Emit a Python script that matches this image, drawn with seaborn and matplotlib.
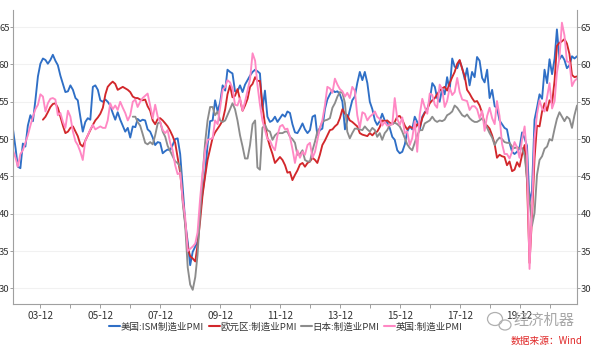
import numpy as np
import pandas as pd
import matplotlib
matplotlib.use("Agg")
import matplotlib.pyplot as plt
from matplotlib.lines import Line2D
from matplotlib.patches import Ellipse
import seaborn as sns

# ---------------- data ----------------
series_names = ["美国:ISM制造业PMI", "欧元区:制造业PMI", "日本:制造业PMI", "英国:制造业PMI"]
series_colors = ["#2F6FC6", "#D2272B", "#8C8C8C", "#FF88C4"]
series_start = ["2003-01-01", "2004-01-01", "2007-01-01", "2003-01-01"]

us_ism = [
    51.3, 48.8, 46.3, 46.1, 49.4, 49.0, 51.8, 53.2, 52.4, 55.2, 58.4, 60.1,
    60.8, 60.6, 60.1, 60.6, 61.3, 60.5, 59.9, 58.5, 57.4, 56.3, 56.4, 57.2,
    56.6, 55.5, 55.2, 53.0, 51.0, 52.3, 52.8, 52.6, 57.0, 57.2, 56.6, 55.2,
    55.0, 55.3, 55.0, 54.5, 53.5, 52.6, 53.6, 52.6, 51.8, 51.0, 51.5, 50.2,
    51.7, 51.6, 52.7, 52.4, 52.6, 52.5, 51.3, 51.0, 50.2, 49.2, 49.6, 49.5,
    48.1, 48.4, 48.6, 48.5, 49.2, 50.0, 50.1, 48.0, 43.5, 38.9, 36.2, 33.1,
    34.9, 35.6, 36.3, 40.1, 42.8, 45.3, 49.2, 52.4, 52.5, 55.2, 53.7, 54.9,
    57.2, 56.5, 59.3, 59.0, 58.8, 56.4, 56.4, 57.2, 56.3, 57.3, 57.9, 58.5,
    59.0, 59.3, 59.1, 58.8, 54.0, 56.5, 53.0, 52.3, 52.5, 53.0, 52.3, 52.8,
    53.3, 53.0, 53.7, 53.5, 52.0, 50.9, 50.8, 51.4, 52.1, 51.3, 50.8, 51.2,
    53.0, 53.2, 50.5, 51.2, 51.4, 54.0, 55.3, 56.0, 56.6, 56.3, 56.4, 56.0,
    55.0, 51.3, 52.5, 53.9, 55.2, 55.7, 57.5, 59.0, 57.9, 59.0, 57.5, 55.0,
    54.0, 52.5, 51.9, 52.4, 53.4, 52.5, 52.2, 51.5, 50.3, 49.9, 48.5, 48.1,
    48.3, 49.3, 51.0, 51.7, 51.3, 53.0, 52.3, 51.2, 53.0, 53.6, 54.0, 55.2,
    57.5, 57.0, 55.5, 55.0, 56.8, 56.0, 58.3, 56.5, 60.8, 59.7, 59.5, 60.5,
    59.5, 58.0, 59.5, 57.2, 59.0, 58.3, 61.0, 60.5, 58.2, 57.6, 59.3, 55.5,
    56.6, 54.4, 54.2, 52.5, 52.0, 51.5, 51.3, 49.5, 48.3, 48.0, 48.3, 48.8,
    50.9, 50.1, 49.1, 41.5, 43.1, 52.6, 54.2, 56.0, 55.4, 59.3, 57.5, 60.7,
    58.7, 60.8, 64.7, 60.7, 61.2, 60.6, 59.5, 59.9, 61.1, 60.8, 61.1,
]

eurozone = [
    52.6, 53.0, 53.6, 54.3, 54.7, 54.8, 54.2, 53.0, 51.8, 50.8, 51.0, 51.5,
    51.7, 51.0, 50.4, 49.3, 49.0, 49.8, 50.5, 51.2, 51.9, 52.5, 52.9, 53.4,
    54.2, 56.0, 57.0, 57.4, 57.7, 57.4, 56.6, 56.8, 57.0, 56.8, 56.6, 56.3,
    55.7, 55.5, 55.5, 55.3, 55.2, 55.3, 54.4, 53.8, 52.5, 52.0, 52.7, 52.8,
    52.5, 52.1, 51.7, 51.1, 50.4, 49.5, 47.5, 45.5, 42.0, 38.8, 35.5, 34.3,
    34.0, 33.6, 35.8, 39.0, 42.5, 45.0, 47.2, 48.7, 50.2, 50.9, 51.4, 51.9,
    52.5, 54.0, 56.0, 57.2, 55.6, 55.8, 56.7, 55.3, 53.8, 54.5, 55.4, 57.0,
    57.4, 58.3, 57.8, 57.8, 54.5, 52.0, 50.2, 49.0, 48.0, 46.8, 47.2, 47.6,
    47.2, 46.5, 45.5, 45.6, 44.5, 45.2, 45.8, 46.6, 46.8, 46.3, 46.8, 47.0,
    47.5, 47.2, 46.8, 47.9, 49.2, 49.8, 50.5, 51.2, 51.3, 51.7, 52.0, 52.8,
    54.0, 53.4, 53.2, 52.5, 52.3, 52.0, 51.7, 50.8, 50.6, 50.5, 50.4, 50.8,
    50.5, 50.9, 51.0, 51.6, 52.5, 52.4, 52.5, 52.2, 52.0, 52.3, 53.0, 53.1,
    52.6, 51.8, 51.3, 51.7, 51.5, 51.4, 52.0, 51.6, 52.8, 53.5, 54.0, 54.8,
    55.2, 55.5, 56.0, 56.5, 56.8, 57.0, 56.5, 57.5, 58.3, 59.0, 60.1, 60.6,
    59.4, 58.4, 56.6, 56.1, 55.5, 55.0, 55.1, 54.5, 53.5, 52.0, 51.8, 51.4,
    50.5, 49.3, 47.5, 47.9, 47.7, 47.6, 46.5, 47.0, 45.7, 45.9, 46.9, 46.3,
    47.9, 49.2, 44.5, 33.4, 39.4, 47.4, 51.8, 51.7, 53.7, 54.8, 53.8, 55.2,
    54.8, 57.9, 62.5, 62.9, 63.1, 63.4, 62.8, 61.4, 58.6, 58.3, 58.4,
]

japan = [
    53.0, 53.0, 52.3, 51.8, 50.7, 49.5, 49.3, 49.6, 49.3, 50.5, 52.1, 52.3,
    51.0, 50.3, 49.1, 48.4, 47.7, 47.0, 46.8, 46.3, 41.5, 38.5, 32.8, 30.5,
    29.8, 31.5, 34.5, 40.0, 45.0, 49.5, 52.5, 54.3, 54.3, 53.2, 53.7, 52.5,
    52.3, 52.5, 53.2, 54.0, 54.8, 54.0, 52.5, 50.5, 49.0, 47.4, 47.4, 49.2,
    52.0, 52.5, 46.2, 45.9, 51.5, 51.9, 51.2, 51.0, 49.9, 50.5, 50.8, 50.8,
    50.8, 51.0, 51.0, 50.3, 50.0, 49.5, 47.9, 48.0, 48.5, 47.2, 47.0, 47.0,
    48.5, 49.7, 51.0, 51.5, 52.3, 52.5, 52.6, 52.8, 54.2, 54.8, 55.7, 56.3,
    56.2, 54.8, 51.0, 50.1, 50.8, 51.4, 51.4, 51.3, 51.2, 51.7, 51.3, 51.0,
    51.5, 51.2, 50.3, 50.8, 49.9, 50.8, 51.2, 51.9, 52.0, 52.2, 52.0, 51.7,
    51.0, 50.1, 49.3, 48.8, 48.5, 49.5, 50.5, 51.2, 51.2, 52.1, 52.3, 52.5,
    53.0, 52.5, 52.3, 52.5, 52.4, 52.6, 53.2, 53.4, 53.7, 54.5, 54.2, 53.7,
    53.2, 53.0, 53.3, 52.8, 52.5, 52.3, 52.3, 52.5, 52.8, 52.3, 51.5, 50.8,
    50.2, 49.2, 49.8, 50.2, 50.0, 49.6, 49.5, 49.5, 49.0, 48.8, 48.9, 48.8,
    48.8, 47.8, 44.8, 41.9, 38.4, 40.1, 45.2, 47.2, 47.7, 48.7, 49.0, 50.0,
    49.8, 51.4, 52.7, 53.6, 53.0, 52.4, 53.0, 52.7, 51.5, 53.2, 54.5,
]

uk = [
    48.5, 47.5, 46.3, 48.0, 48.5, 49.5, 50.5, 51.8, 53.0, 54.0, 54.6, 56.0,
    55.7, 53.7, 54.8, 55.4, 55.5, 55.3, 53.2, 53.5, 52.3, 51.5, 53.8, 53.0,
    51.0, 49.7, 49.2, 48.3, 47.2, 49.8, 50.5, 51.3, 51.9, 51.3, 51.5, 51.7,
    51.5, 51.5, 52.5, 54.8, 54.0, 54.5, 53.9, 55.0, 54.2, 53.5, 52.5, 53.2,
    55.0, 55.3, 54.3, 55.0, 55.5, 55.8, 56.1, 54.5, 52.8, 54.6, 53.0, 52.3,
    51.2, 50.8, 51.2, 49.5, 48.5, 46.5, 45.3, 45.5, 41.8, 39.5, 35.0, 35.3,
    35.6, 36.0, 37.5, 42.0, 45.5, 48.5, 49.9, 50.0, 50.1, 52.5, 52.0, 54.2,
    56.6, 57.0, 57.9, 57.6, 56.8, 54.6, 54.5, 55.5, 53.8, 55.0, 56.5, 58.0,
    61.5, 60.5, 57.3, 54.6, 52.5, 51.2, 50.0, 49.8, 49.0, 48.5, 50.5, 51.7,
    51.9, 51.3, 51.4, 50.3, 48.7, 46.8, 48.5, 47.5, 48.3, 47.9, 49.2, 49.5,
    47.5, 48.3, 49.8, 51.5, 52.5, 54.5, 57.0, 56.8, 56.2, 58.1, 57.3, 56.7,
    56.4, 55.7, 56.2, 55.5, 57.0, 56.5, 53.2, 51.5, 53.6, 53.4, 52.5, 53.0,
    53.3, 53.7, 53.0, 52.7, 51.8, 52.3, 51.8, 51.9, 52.0, 55.5, 52.7, 51.9,
    52.9, 50.8, 51.0, 49.2, 50.1, 52.4, 48.3, 53.3, 55.4, 54.3, 53.4, 56.1,
    55.9, 54.6, 54.2, 57.3, 56.7, 54.3, 55.1, 56.9, 55.9, 56.3, 58.2, 56.3,
    55.3, 55.2, 55.1, 53.9, 54.4, 54.4, 54.0, 52.8, 53.8, 51.1, 53.1, 54.2,
    52.8, 52.0, 55.1, 53.1, 49.4, 48.0, 48.0, 47.4, 48.3, 49.6, 48.9, 47.5,
    50.0, 51.7, 47.8, 32.6, 40.7, 50.1, 53.3, 55.2, 54.1, 53.7, 55.6, 57.5,
    54.1, 55.1, 58.9, 60.9, 65.6, 63.9, 60.4, 60.3, 57.1, 57.8, 58.1,
]

y_ticks = [30, 35, 40, 45, 50, 55, 60, 65]
x_tick_years = list(range(2003, 2021))

# ---------------- build table ----------------
frames = []
for name, start, vals in zip(series_names, series_start, [us_ism, eurozone, japan, uk]):
    d = pd.date_range(start, periods=len(vals), freq="MS")
    frames.append(pd.DataFrame({"date": d, "value": vals, "series": name}))
df = pd.concat(frames, ignore_index=True)

# ---------------- plot ----------------
sns.set_style("white")
plt.rcParams["font.family"] = ["Noto Sans CJK SC", "DejaVu Sans"]

fig = plt.figure(figsize=(5.91, 3.47), dpi=100)
ax = fig.add_axes([13 / 591, 1 - 304 / 347, (577 - 13) / 591, (304 - 10) / 347])

sns.lineplot(data=df, x="date", y="value", hue="series", hue_order=series_names,
             palette=series_colors, linewidth=1.35, ax=ax, legend=False)

ax.set_xlim(pd.Timestamp("2003-01-01"), pd.Timestamp("2021-11-01"))
ax.set_ylim(27.9, 67.3)
ax.set_xlabel("")
ax.set_ylabel("")

ax.set_yticks(y_ticks)
ax.yaxis.grid(True, color="#F1F1F1", linewidth=0.8)
ax.set_axisbelow(True)

tick_dates = [pd.Timestamp(f"{y}-12-01") for y in x_tick_years]
ax.set_xticks(tick_dates)
ax.set_xticklabels([d.strftime("%y-%m") if (d.year - 2003) % 2 == 0 else "" for d in tick_dates])

for side in ["left", "bottom", "right"]:
    ax.spines[side].set_visible(True)
    ax.spines[side].set_color("#A0A0A0")
    ax.spines[side].set_linewidth(0.8)
ax.spines["top"].set_visible(False)

ax.tick_params(axis="y", left=True, right=True, labelleft=True, labelright=True,
               direction="out", length=2, width=0.7, color="#A0A0A0",
               labelsize=6.8, labelcolor="#333333", pad=0.5)
ax.tick_params(axis="x", bottom=True, direction="out", length=3, width=0.7,
               color="#A0A0A0", labelsize=7.3, labelcolor="#333333", pad=2)

handles = [Line2D([0], [0], color=c, lw=1.5) for c in series_colors]
fig.legend(handles, series_names, loc="center", bbox_to_anchor=(286 / 591, 1 - 327 / 347),
           ncol=4, frameon=False, fontsize=6.8, handlelength=1.15, handletextpad=0.05,
           columnspacing=0.5, labelcolor="#333333")

# watermark
fig.text(544 / 591, 1 - 320 / 347, "经济机器", ha="center", va="center",
         fontsize=11, color="#A8A8A8")
fig.patches.append(Ellipse((495 / 591, 1 - 319 / 347), 15 / 591, 13 / 347,
                           transform=fig.transFigure, fill=False, ec="#B0B0B0", lw=0.9))
fig.patches.append(Ellipse((505 / 591, 1 - 325 / 347), 12 / 591, 10 / 347,
                           transform=fig.transFigure, fill=False, ec="#B0B0B0", lw=0.9))
fig.text(547 / 591, 1 - 341 / 347, "数据来源：Wind", ha="center", va="center",
         fontsize=7, color="#E02828", style="italic")

fig.savefig("out.png", dpi=100)
